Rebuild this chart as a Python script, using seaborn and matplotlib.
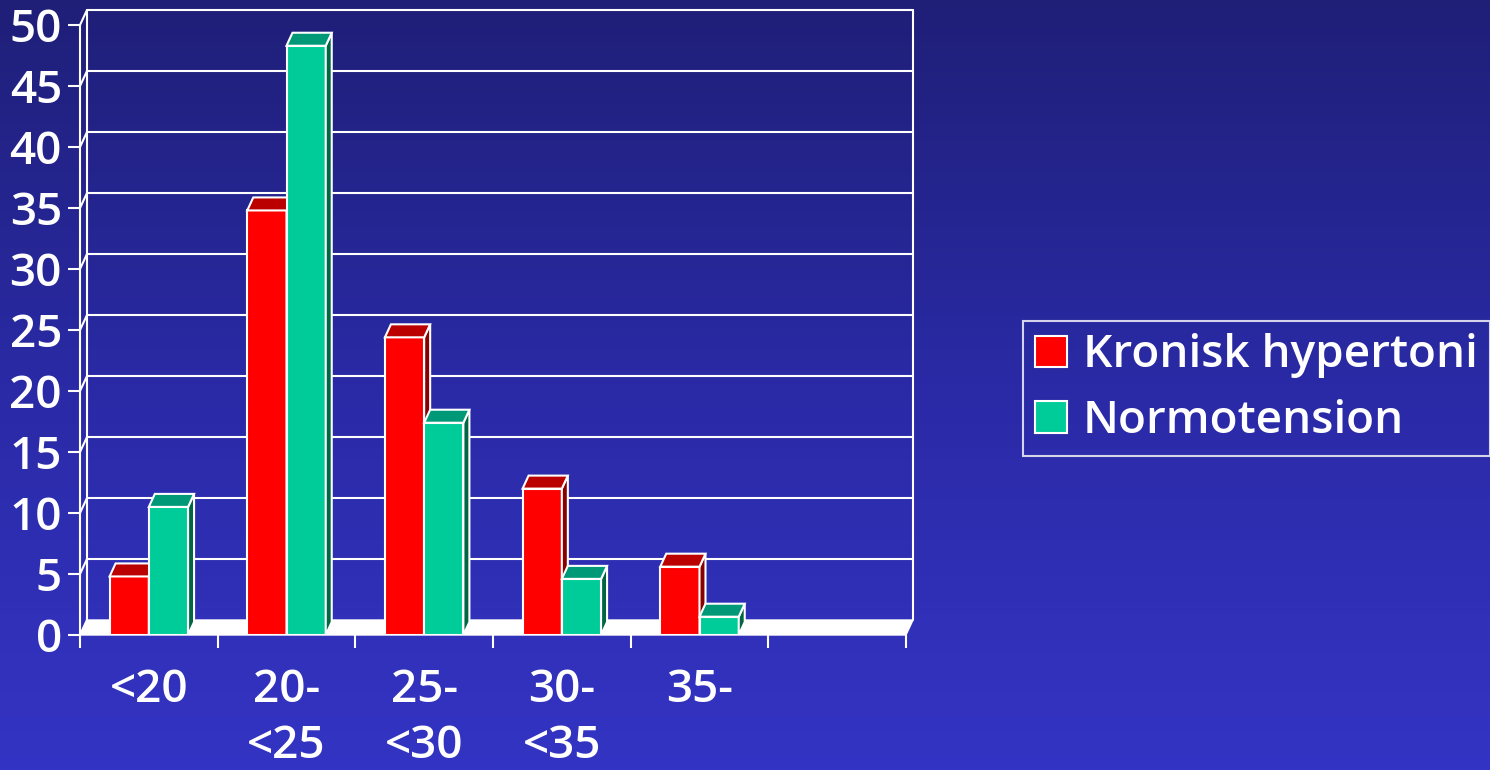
import numpy as np
import pandas as pd
import matplotlib
matplotlib.use("Agg")
import matplotlib.pyplot as plt
from matplotlib.patches import Polygon, Patch
from matplotlib.colors import LinearSegmentedColormap
import seaborn as sns

# ---- data -------------------------------------------------------------
categories = ["<20", "20-\n<25", "25-\n<30", "30-\n<35", "35-", " "]
series_names = ["Kronisk hypertoni", "Normotension"]
kronisk_hypertoni = [4.8, 34.8, 24.4, 12.0, 5.6]
normotension = [10.5, 48.3, 17.4, 4.6, 1.5]
y_ticks = [0, 5, 10, 15, 20, 25, 30, 35, 40, 45, 50]

# ---- style ------------------------------------------------------------
sns.set_theme(style="white")
plt.rcParams["font.family"] = ["Open Sans", "DejaVu Sans"]
plt.rcParams["font.weight"] = "semibold"

front_colors = ["#ff0000", "#00cc99"]
top_colors = ["#bb0000", "#009977"]
side_colors = ["#880000", "#006644"]
WHITE = "#ffffff"
FS = 33

W, H = 1490, 770
fig = plt.figure(figsize=(W / 100, H / 100), dpi=100)

# background gradient
bg = fig.add_axes([0, 0, 1, 1], zorder=-10)
grad = np.linspace(0, 1, 256).reshape(-1, 1)
cmap = LinearSegmentedColormap.from_list("bg", ["#1f1f78", "#2a2aa6", "#3434c4"])
bg.imshow(grad, aspect="auto", cmap=cmap, extent=[0, 1, 0, 1], origin="upper")
bg.set_axis_off()

# plotting area (front plane of the 3D box)
x0_px, x1_px, y0_px, y1_px = 80, 906, 635, 25
ax = fig.add_axes([x0_px / W, 1 - y0_px / H, (x1_px - x0_px) / W, (y0_px - y1_px) / H])
ax.set_facecolor("none")

df = pd.DataFrame({
    "group": categories[:5] * 2,
    "series": [series_names[0]] * 5 + [series_names[1]] * 5,
    "value": kronisk_hypertoni + normotension,
})

sns.barplot(data=df, x="group", y="value", hue="series", order=categories,
            hue_order=series_names, palette=front_colors, width=0.57,
            edgecolor=WHITE, linewidth=1.5, saturation=1, ax=ax, legend=False)

ax.set_xlim(-0.5, len(categories) - 0.5)
ax.set_ylim(0, 50)

# pixel-to-data helpers for the depth offsets
px_x = (len(categories)) / (x1_px - x0_px)
px_y = 50 / (y0_px - y1_px)
wall_dx, wall_dy = 7 * px_x, 15 * px_y
bar_dx, bar_dy = 6 * px_x, 13 * px_y

xl, xr = -0.5, len(categories) - 0.5

# floor
floor = Polygon([(xl, 0), (xl + wall_dx, wall_dy), (xr + wall_dx, wall_dy), (xr, 0)],
                closed=True, facecolor=WHITE, edgecolor=WHITE, lw=1, zorder=1, clip_on=False)
ax.add_patch(floor)

# back wall gridlines and edges
for t in y_ticks[1:]:
    ax.plot([xl + wall_dx, xr + wall_dx], [t + wall_dy, t + wall_dy], color=WHITE,
            lw=1.5, zorder=0.5, clip_on=False)
for t in y_ticks:
    ax.plot([xl, xl + wall_dx], [t, t + wall_dy], color=WHITE, lw=1.5,
            zorder=0.5, clip_on=False)
ax.plot([xl + wall_dx] * 2, [wall_dy, 50 + wall_dy], color=WHITE, lw=1.5, zorder=0.5, clip_on=False)
ax.plot([xr + wall_dx] * 2, [wall_dy, 50 + wall_dy], color=WHITE, lw=1.5, zorder=0.5, clip_on=False)
ax.plot([xl, xl], [0, 50], color=WHITE, lw=1.5, zorder=0.5, clip_on=False)

# 3D tops and sides of the bars
for i, container in enumerate(ax.containers):
    z = 3 + 2 * i
    for bar in container:
        bar.set_zorder(z)
        bx0 = bar.get_x()
        bx1 = bx0 + bar.get_width()
        h = bar.get_height()
        if np.isnan(h):
            continue
        top = Polygon([(bx0, h), (bx1, h), (bx1 + bar_dx, h + bar_dy), (bx0 + bar_dx, h + bar_dy)],
                      closed=True, facecolor=top_colors[i], edgecolor=WHITE, lw=1.5, zorder=z)
        side = Polygon([(bx1, 0), (bx1 + bar_dx, bar_dy), (bx1 + bar_dx, h + bar_dy), (bx1, h)],
                       closed=True, facecolor=side_colors[i], edgecolor=WHITE, lw=1.5, zorder=z)
        ax.add_patch(side)
        ax.add_patch(top)

# axes and ticks
for s in ax.spines.values():
    s.set_visible(False)
ax.set_yticks(y_ticks)
ax.set_yticklabels([str(t) for t in y_ticks])
ax.set_xticks(np.arange(len(categories) + 1) - 0.5, minor=True)
ax.set_xticks(np.arange(len(categories)))
ax.set_xticklabels(categories, linespacing=1.3)
ax.tick_params(axis="x", which="major", length=0, pad=24, labelsize=FS, colors=WHITE)
ax.tick_params(axis="x", which="minor", length=9, width=1.5, color=WHITE, direction="out", bottom=True)
ax.tick_params(axis="y", length=9, width=1.5, color=WHITE, direction="out", left=True,
               pad=4, labelsize=FS, labelcolor=WHITE)
ax.set_xlabel("")
ax.set_ylabel("")
ax.grid(False)

# legend
handles = [Patch(facecolor=c, edgecolor=WHITE, lw=1.5) for c in front_colors]
leg = fig.legend(handles, series_names, loc="upper left",
                 bbox_to_anchor=(1023 / W, 1 - 321 / H), frameon=True, fancybox=False,
                 fontsize=FS, labelcolor=WHITE, handlelength=0.68, handleheight=0.68,
                 handletextpad=0.35, borderpad=0.27, labelspacing=0.45, borderaxespad=0)
leg.get_frame().set_facecolor("none")
leg.get_frame().set_edgecolor(WHITE)
leg.get_frame().set_linewidth(1.5)

fig.savefig("out.png", dpi=100)
